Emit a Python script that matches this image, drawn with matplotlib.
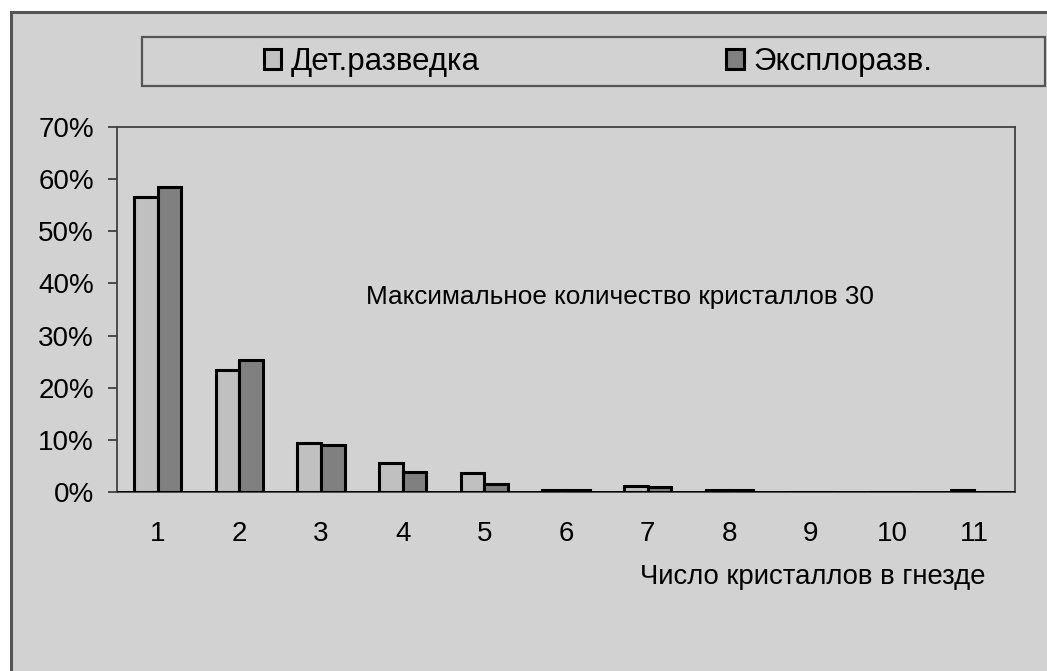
import matplotlib.pyplot as plt
from matplotlib.patches import Rectangle
from matplotlib.ticker import PercentFormatter

plt.rcParams["font.family"] = ["Liberation Sans", "DejaVu Sans"]
plt.rcParams["font.size"] = 20

# data (share of nests)
categories = ["1", "2", "3", "4", "5", "6", "7", "8", "9", "10", "11"]
det_razvedka = [0.566, 0.234, 0.094, 0.056, 0.036, 0.003, 0.012, 0.003, 0.0, 0.0, 0.004]
exploraz = [0.585, 0.253, 0.090, 0.038, 0.015, 0.003, 0.010, 0.003, 0.0, 0.0, -0.003]
series_names = ["Дет.разведка", "Эксплоразв."]
note = "Максимальное количество кристаллов 30"
x_title = "Число кристаллов в гнезде"

BG = "#D2D2D2"
LIGHT = "#C0C0C0"
DARK = "#808080"
FRAME = "#555555"

W, H = 1047, 671
fig = plt.figure(figsize=(W / 100, H / 100), dpi=100, facecolor="white")

# outer chart frame (cut off at right and bottom like the original)
fig.patches.append(Rectangle((11 / W, -0.1), 1.0, (H - 12) / H + 0.1,
                             transform=fig.transFigure, facecolor=BG,
                             edgecolor=FRAME, linewidth=2.2, zorder=-3))

ax = fig.add_axes([117 / W, (H - 492) / H, 898 / W, 365 / H])
ax.set_facecolor(BG)

pos = list(range(1, len(categories) + 1))
bw = 0.29
b1 = ax.bar([p - bw / 2 for p in pos], det_razvedka, width=bw, color=LIGHT,
            edgecolor="black", linewidth=2.2, label=series_names[0], zorder=3)
b2 = ax.bar([p + bw / 2 for p in pos], exploraz, width=bw, color=DARK,
            edgecolor="black", linewidth=2.2, label=series_names[1], zorder=3)

ax.set_xlim(0.5, len(categories) + 0.5)
ax.set_ylim(0, 0.70)
ax.set_yticks([i / 10 for i in range(8)])
ax.yaxis.set_major_formatter(PercentFormatter(1.0, decimals=0))
ax.set_xticks(pos)
ax.set_xticklabels(categories)
ax.tick_params(axis="x", length=0, pad=21)
ax.tick_params(axis="y", length=6.5, width=1.3, color="#404040", pad=10)
for s in ax.spines.values():
    s.set_color("#404040")
    s.set_linewidth(1.3)
ax.axhline(0, color="black", linewidth=1.3, zorder=4)

ax.text(0.56, 0.534, note, transform=ax.transAxes, ha="center", va="center",
        fontsize=18.8)
ax.text(0.9666, -0.233, x_title, transform=ax.transAxes, ha="right",
        va="center", fontsize=19.8)

# legend box
fig.patches.append(Rectangle((142 / W, (H - 86) / H), (1045 - 142) / W, 49 / H,
                             transform=fig.transFigure, facecolor=BG,
                             edgecolor=FRAME, linewidth=1.6, zorder=-2))
fig.legend(handles=[b1, b2], loc="center left",
           bbox_to_anchor=(264 / W, 1 - 62 / H), ncol=2, frameon=False,
           borderpad=0, borderaxespad=0, handlelength=0.55, handleheight=0.6,
           handletextpad=0.3, columnspacing=7.9, fontsize=22.5)

fig.savefig("out.png", dpi=100, facecolor="white")
